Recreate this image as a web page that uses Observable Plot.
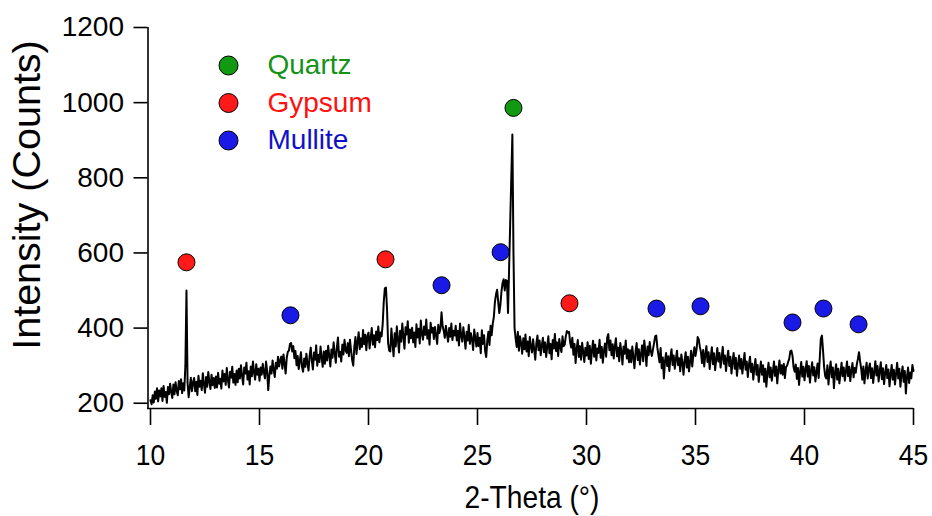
<!DOCTYPE html>
<html><head><meta charset="utf-8">
<script src="https://cdn.jsdelivr.net/npm/d3@7"></script>
<script src="https://cdn.jsdelivr.net/npm/@observablehq/plot@0.6"></script>
<style>
html,body{margin:0;padding:0;background:#fff;}
#chart svg{display:block;}
</style></head><body><div id="chart"></div>
<script>
// XRD scan: 2-theta from 10 to 45 degrees in 0.05 degree steps
const thetaStart = 10;
const thetaStep = 0.05;
const intensity = [
  208,197,221,202,231,212,240,205,234,218,240,206,246,217,230,201,243,224,252,230, // 10
  214,250,224,256,234,221,259,237,264,227,253,234,300,500,255,216,242,268,232,255, // 11
  267,232,257,222,273,244,260,235,280,251,228,270,244,283,257,238,276,248,267,241, // 12
  271,242,281,252,265,239,287,258,278,249,294,262,242,284,268,297,255,278,249,287, // 13
  256,292,266,301,272,250,295,279,308,263,285,250,298,272,311,282,263,304,276,292, // 14
  260,295,276,305,282,266,311,286,235,273,298,279,314,289,270,308,292,324,298,314, // 15
  324,292,330,305,279,321,337,340,358,360,338,352,320,339,301,326,291,313,336,297, // 16
  284,319,297,332,306,287,326,348,313,290,335,316,354,300,329,310,351,322,297,338, // 17
  305,340,314,353,327,298,343,321,362,333,308,349,375,324,337,311,356,330,369,340, // 18
  334,360,325,369,341,315,300,350,376,331,363,389,344,373,350,395,357,382,341,379, // 19
  388,346,375,400,356,381,349,391,368,404,362,388,378,410,470,506,508,450,360,340, // 20
  338,399,361,325,386,351,405,370,335,393,364,412,377,345,402,383,418,361,396,373, // 21
  401,362,388,350,410,375,398,359,420,385,369,404,382,423,372,394,356,414,388,401, // 22
  371,403,380,358,409,387,398,442,405,393,374,406,384,364,400,377,412,368,393,380, // 23
  406,367,393,354,412,380,364,402,377,345,390,367,409,358,386,370,342,396,374,351, // 24
  387,352,374,333,394,358,381,339,323,368,390,355,406,381,412,430,470,490,502,470, // 25
  440,462,498,520,530,500,528,526,440,560,680,800,915,600,400,372,350,390,340,378, // 26
  360,332,373,344,383,338,364,325,376,351,335,370,344,316,360,380,341,367,328,354, // 27
  374,336,362,323,352,378,333,358,317,368,346,384,339,362,326,371,349,336,378,352, // 28
  356,378,392,388,390,362,348,374,329,358,307,345,368,323,352,316,361,336,310,348, // 29
  327,362,318,353,305,340,366,324,356,314,346,334,369,321,350,308,340,359,324,375, // 30
  384,341,367,328,357,319,351,373,325,348,312,360,338,303,351,332,367,319,344,309, // 31
  341,309,351,322,293,338,360,315,344,303,331,354,312,367,338,299,351,328,363,338, // 32
  326,344,360,378,380,348,328,309,347,293,322,266,312,334,299,325,286,322,344,302, // 33
  327,292,317,340,301,320,285,330,308,276,314,336,295,324,285,311,340,298,327,349, // 34
  326,344,376,370,350,336,307,342,298,330,352,310,336,291,323,349,304,333,288,317, // 35
  347,311,334,295,321,350,305,327,286,318,340,299,324,279,311,334,292,321,273,302, // 36
  327,292,318,279,308,334,289,311,270,302,324,283,305,263,295,318,276,302,257,286, // 37
  311,276,301,257,292,244,282,308,269,295,260,285,311,273,298,253,289,314,279,301, // 38
  276,305,267,296,300,310,318,338,340,326,296,284,303,265,294,249,284,310,271,297, // 39
  261,290,312,271,299,255,287,309,274,296,258,283,306,267,320,372,380,340,296,272, // 40
  266,301,250,288,311,269,295,240,282,304,263,292,253,279,308,272,295,260,285,311, // 41
  272,297,259,288,307,269,294,281,304,318,336,312,292,263,298,253,285,308,266,292, // 42
  306,267,293,254,283,312,274,299,258,286,309,264,293,251,280,302,267,290,245,277, // 43
  302,263,289,250,279,308,266,292,244,276,298,257,286,226,270,295,254,282,266,302, // 44
  286 // 45
];
const twoTheta = intensity.map((_, i) => +(thetaStart + i * thetaStep).toFixed(2));

// Peak identification markers
const peakTheta     = [11.65, 16.42, 20.78, 23.35, 26.06, 26.65, 29.22, 33.21, 35.23, 39.45, 40.87, 42.48];
const peakIntensity = [575,   434,   583,   514,   602,   986,   466,   452,   458,   415,   452,   410];
const peakPhase     = ["Gypsum","Mullite","Gypsum","Mullite","Mullite","Quartz","Gypsum","Mullite","Mullite","Mullite","Mullite","Mullite"];

const phases = ["Quartz", "Gypsum", "Mullite"];
const xTicks = [10, 15, 20, 25, 30, 35, 40, 45];
const yTicks = [200, 400, 600, 800, 1000, 1200];
const xLabel = "2-Theta (°)";
const yLabel = "Intensity (Counts)";

const markFill = {Quartz: "#119a11", Gypsum: "#ff1a1a", Mullite: "#1a1ae6"};
const labelFill = {Quartz: "#169316", Gypsum: "#ff1010", Mullite: "#1010c8"};

const pattern = twoTheta.map((t, i) => ({t, v: intensity[i]}));
const peaks = peakTheta.map((t, i) => ({t, v: peakIntensity[i], phase: peakPhase[i]}));

const font = "'Liberation Sans', Arial, Helvetica, sans-serif";

const chart = Plot.plot({
  width: 932,
  height: 516,
  marginLeft: 150,
  marginRight: 19,
  marginTop: 27,
  marginBottom: 108,
  style: {fontFamily: font, background: "#fff", color: "#000"},
  x: {domain: [10, 45]},
  y: {domain: [186, 1200]},
  marks: [
    Plot.ruleX([10], {dx: -2.5, stroke: "#000", strokeWidth: 1.6}),
    Plot.ruleY([186], {insetLeft: -3, stroke: "#000", strokeWidth: 1.6}),
    Plot.axisY({ticks: yTicks, anchor: "left", tickSize: 14, tickPadding: 10, dx: -2.5,
      fontSize: 28, strokeWidth: 1.6, label: null, tickFormat: d => String(d)}),
    Plot.axisX({ticks: xTicks, anchor: "bottom", tickSize: 17, tickPadding: 18,
      fontSize: 30, strokeWidth: 1.6, label: null, tickFormat: d => String(d), className: "xaxis"}),
    Plot.line(pattern, {x: "t", y: "v", stroke: "#000", strokeWidth: 2, strokeLinejoin: "round"}),
    ...phases.map(p => Plot.dot(peaks.filter(d => d.phase === p),
      {x: "t", y: "v", r: 8.5, fill: markFill[p], stroke: "#000", strokeWidth: 1})),
    ...phases.flatMap((p, i) => [
      Plot.dot([p], {frameAnchor: "top-left", dx: 78, dy: 38 + i * 37.5, r: 9.5,
        fill: markFill[p], stroke: "#000", strokeWidth: 1}),
      Plot.text([p], {frameAnchor: "top-left", dx: 117, dy: 38 + i * 37.5, text: d => d,
        textAnchor: "start", lineAnchor: "middle", fontSize: 28, fill: labelFill[p]})
    ]),
    Plot.text([xLabel], {frameAnchor: "bottom", dy: 89, text: d => d, fontSize: 32,
      textAnchor: "middle", lineAnchor: "middle", fill: "#000", className: "xtitle"}),
    Plot.text([yLabel], {frameAnchor: "left", dx: -123, dy: -23, rotate: -90, text: d => d,
      textAnchor: "middle", lineAnchor: "middle", fontSize: 39.5, fill: "#000"})
  ]
});
document.getElementById("chart").appendChild(chart);

// horizontally condensed lettering on the x axis, as in the reference
d3.select(chart).selectAll(".xaxis text, .xtitle text").each(function() {
  const len = this.getComputedTextLength();
  this.setAttribute("textLength", (len * 0.88).toFixed(1));
  this.setAttribute("lengthAdjust", "spacingAndGlyphs");
});
</script>
</body></html>
